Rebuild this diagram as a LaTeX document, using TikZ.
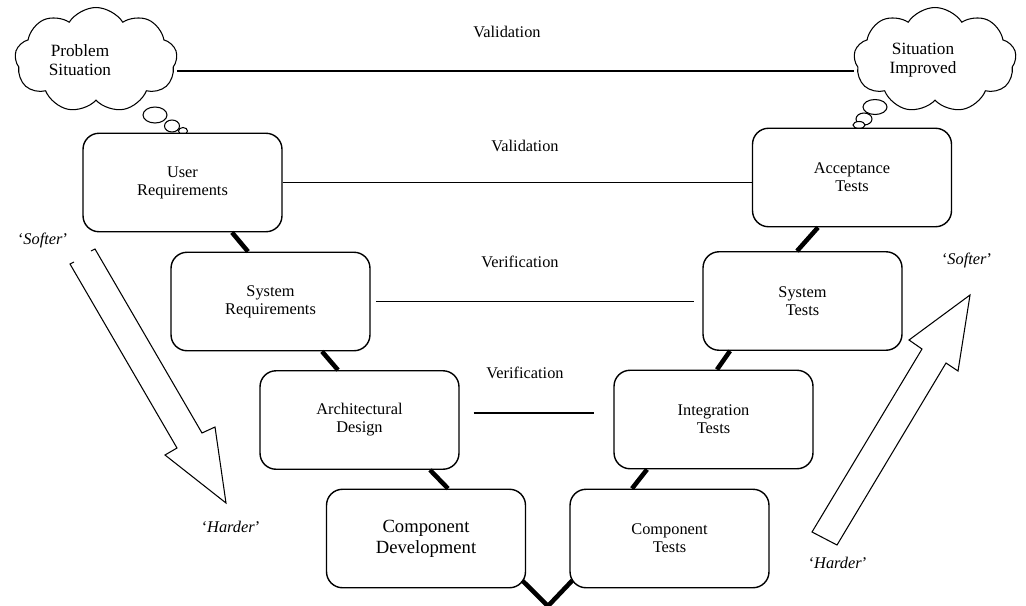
\documentclass[tikz,border=0pt]{standalone}
\usepackage{fontspec}
\setmainfont{Liberation Serif}
\usetikzlibrary{calc,shapes.symbols}

\begin{document}
\begin{tikzpicture}
  [x=0.02cm,y=-0.02cm,font=\fontsize{9.3}{10.3}\selectfont,
   stage/.style={draw,fill=white,rounded corners=0.32cm,line width=0.8pt,
     minimum width=3.98cm,minimum height=1.97cm,align=center},
   think/.style={draw,fill=white,cloud,cloud puffs=9,cloud puff arc=115,cloud ignores aspect,
     line width=0.6pt,minimum width=3.25cm,minimum height=2.1cm},
   vee/.style={line width=2.6pt},
   link/.style={line width=0.8pt},
   hollow/.style={line width=0.6pt,line join=miter},
   tag/.style={inner sep=0pt}]
  \useasboundingbox (0,0) rectangle (1026,605);

  % situations
  \node[think,label={[align=center,xshift=-0.32cm,font=\fontsize{9.8}{10.8}\selectfont]center:Problem\\Situation}] (prob) at (96,60) {};
  \node[think,label={[align=center,xshift=-0.24cm,font=\fontsize{9.8}{10.8}\selectfont]center:Situation\\Improved}] (impr) at (935,60) {};
  \foreach \x/\y/\rx/\ry in {155/115/12/8,172/126/7.5/6,183/131/4.5/3.5,
                            875/107/12/7.5,864/119/8/6,859/125/6/3.5}
    \draw[line width=0.6pt,fill=white] (\x,\y) ellipse ({\rx*0.02cm} and {\ry*0.02cm});

  % left leg
  \node[stage] (ureq) at (182.5,182.5) {User\\Requirements};
  \node[stage] (sreq) at (270.5,301.5) {System\\Requirements};
  \node[stage] (arch) at (359.5,420) {Architectural\\Design};
  \node[stage,font=\fontsize{10.6}{12}\selectfont] (cdev) at (426,538.5) {Component\\Development};

  % right leg
  \node[stage] (atest) at (852,177.5) {Acceptance\\Tests};
  \node[stage] (stest) at (802.5,301) {System\\Tests};
  \node[stage] (itest) at (713.5,419.5) {Integration\\Tests};
  \node[stage] (ctest) at (669.5,538.5) {Component\\Tests};

  % the V
  \draw[vee] ($(ureq.south)+(49.5,0)$) -- ($(sreq.north)+(-22.5,0)$);
  \draw[vee] ($(sreq.south)+(51.5,0)$) -- ($(arch.north)+(-21.5,0)$);
  \draw[vee] ($(arch.south)+(70.5,0)$) -- ($(cdev.north)+(22,0)$);
  \draw[vee] ($(cdev.south east)+(-4,-8)$) -- (548,606) -- ($(ctest.south west)+(3,-8)$);
  \draw[vee] ($(ctest.north)+(-37.5,0)$) -- ($(itest.south)+(-66.5,0)$);
  \draw[vee] ($(itest.north)+(3.5,0)$) -- ($(stest.south)+(-72.5,0)$);
  \draw[vee] ($(stest.north)+(-5.5,0)$) -- ($(atest.south)+(-34,0)$);

  % checks across
  \draw[link] (prob.east |- 0,71) -- (impr.west |- 0,71);
  \draw[link] (ureq.east) -- (atest.west |- ureq.east);
  \draw[link,shorten <=3pt,shorten >=5pt] (sreq.east) -- (stest.west |- sreq.east);
  \draw[link,shorten <=8pt,shorten >=11pt] (arch.east |- 0,413) -- (itest.west |- 0,413);
  \node[tag] (val1) at (507,32) {Validation};
  \node[tag] (val2) at (525,146) {Validation};
  \node[tag] (ver1) at (520,262) {Verification};
  \node[tag] (ver2) at (525,373) {Verification};

  % softer / harder
  \draw[hollow] (74,262) -- (70,264) -- (177,448) -- (165,455) -- (226,503)
    -- (215,427) -- (202,433) -- (95,249) -- (91,251);
  \draw[hollow] (812,532) -- (922,349) -- (909,340) -- (970,295)
    -- (958,371) -- (946,363) -- (837,545) -- cycle;
  \node[tag] (soft1) at (43,240) {‘\textit{Softer}’};
  \node[tag] (hard1) at (231,527) {‘\textit{Harder}’};
  \node[tag] (soft2) at (967,260) {‘\textit{Softer}’};
  \node[tag] (hard2) at (838,563) {‘\textit{Harder}’};
\end{tikzpicture}
\end{document}
